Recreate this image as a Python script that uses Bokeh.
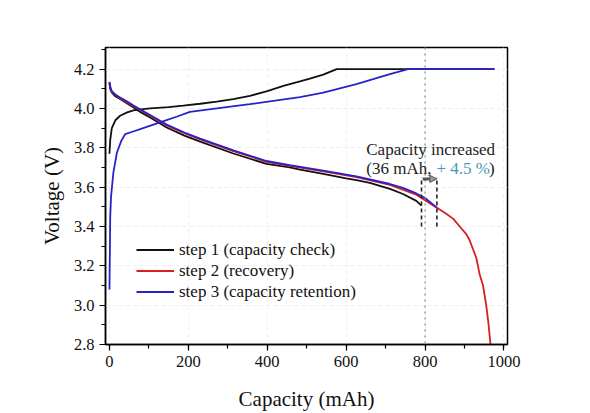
from bokeh.plotting import figure
from bokeh.models import (Range1d, SingleIntervalTicker, NumeralTickFormatter, Legend, LegendItem,
                          Span, Label, Arrow, NormalHead)
from bokeh.embed import file_html
from bokeh.resources import INLINE

# ---- data ----
step1_charge_cap = [0, 2, 6, 15, 27, 45, 61, 80, 103, 150, 187, 230, 272, 314, 356, 400, 441, 483, 508, 542, 576, 976]
step1_charge_v = [3.77, 3.84, 3.90, 3.94, 3.963, 3.98, 3.99, 3.995, 4.0, 4.007, 4.014, 4.024, 4.035, 4.048,
                  4.064, 4.088, 4.115, 4.138, 4.152, 4.172, 4.2, 4.2]

step1_dis_cap = [0, 2, 6, 15, 27, 45, 61, 80, 103, 145, 190, 230, 314, 398, 457, 483, 542, 600, 626, 660,
                 711, 744, 778, 791]
step1_dis_v = [4.132, 4.10, 4.081, 4.062, 4.048, 4.025, 4.005, 3.98, 3.954, 3.903, 3.862, 3.831, 3.771, 3.718,
               3.70, 3.689, 3.667, 3.645, 3.636, 3.622, 3.591, 3.565, 3.53, 3.506]

step2_dis_cap = [0, 6, 27, 61, 103, 145, 190, 230, 314, 398, 457, 542, 626, 711, 778, 829, 850, 871, 888,
                 905, 913, 930, 938, 947, 955, 960, 966]
step2_dis_v = [4.13, 4.084, 4.052, 4.011, 3.963, 3.914, 3.874, 3.843, 3.783, 3.729, 3.708, 3.68, 3.651, 3.612,
               3.562, 3.497, 3.47, 3.44, 3.40, 3.36, 3.33, 3.24, 3.16, 3.10, 3.0, 2.92, 2.80]

step3_charge_cap = [0, 1, 2, 4, 10, 19, 30, 40, 60, 78, 128, 170, 204, 272, 356, 420, 483, 542, 626, 711, 757, 976]
step3_charge_v = [3.08, 3.25, 3.45, 3.55, 3.675, 3.776, 3.835, 3.87, 3.883, 3.895, 3.929, 3.958, 3.983, 4.0,
                  4.022, 4.04, 4.058, 4.081, 4.124, 4.175, 4.2, 4.2]

step3_dis_cap = [0, 2, 6, 15, 27, 45, 61, 80, 103, 145, 190, 230, 314, 398, 457, 542, 626, 711, 744, 778, 800, 829]
step3_dis_v = [4.135, 4.105, 4.088, 4.07, 4.056, 4.035, 4.015, 3.993, 3.967, 3.918, 3.878, 3.847, 3.787, 3.733,
               3.712, 3.684, 3.655, 3.616, 3.596, 3.568, 3.545, 3.497]

legend_labels = ["step 1 (capacity check)", "step 2 (recovery)", "step 3 (capacity retention)"]
step1_end_cap = 791
step3_end_cap = 830
marker_cap = 800
annot_line1 = "Capacity increased"
annot_line2a = "(36 mAh, "
annot_line2b = "+ 4.5 %"
annot_line2c = ")"

FONT = "Liberation Serif"
C1, C2, C3 = "#111111", "#d81e1e", "#2a22c8"

p = figure(width=590, height=413, output_backend="svg", toolbar_location=None,
           x_range=Range1d(-10, 1009), y_range=Range1d(2.8, 4.31),
           min_border_left=105, min_border_right=83, min_border_top=47, min_border_bottom=69,
           background_fill_color="white", border_fill_color="white")

p.outline_line_color = "black"
p.outline_line_width = 1.5
p.xgrid.grid_line_color = "#efefef"
p.ygrid.grid_line_color = "#efefef"
p.xgrid.grid_line_dash = "4 3"
p.ygrid.grid_line_dash = "4 3"

p.xaxis.ticker = SingleIntervalTicker(interval=200, num_minor_ticks=2)
p.yaxis.ticker = SingleIntervalTicker(interval=0.2, num_minor_ticks=2)
p.yaxis.formatter = NumeralTickFormatter(format="0.0")
for ax in (p.xaxis, p.yaxis):
    ax.axis_line_width = 1.5
    ax.axis_line_color = "black"
    ax.major_tick_line_color = "black"
    ax.minor_tick_line_color = "black"
    ax.major_tick_line_width = 1.2
    ax.minor_tick_line_width = 1.2
    ax.major_tick_in = 0
    ax.major_tick_out = 6
    ax.minor_tick_in = 0
    ax.minor_tick_out = 4
    ax.major_label_text_font = FONT
    ax.major_label_text_font_size = "16.5px"
    ax.major_label_text_color = "#111111"
    ax.axis_label_text_font = FONT
    ax.axis_label_text_font_size = "21px"
    ax.axis_label_text_font_style = "normal"
    ax.axis_label_text_color = "#111111"
    ax.major_label_standoff = 5
p.xaxis.axis_label = "Capacity (mAh)"
p.yaxis.axis_label = "Voltage (V)"
p.xaxis.axis_label_standoff = 17
p.yaxis.axis_label_standoff = 7

# vertical dotted marker
p.add_layout(Span(location=marker_cap, dimension="height", line_color="#8a8a8a",
                  line_dash="dotted", line_width=1.2))

# curves
r1a = p.line(step1_charge_cap, step1_charge_v, line_color=C1, line_width=1.8)
r1b = p.line(step1_dis_cap, step1_dis_v, line_color=C1, line_width=1.8)
r2b = p.line(step2_dis_cap, step2_dis_v, line_color=C2, line_width=1.8)
r3a = p.line(step3_charge_cap, step3_charge_v, line_color=C3, line_width=1.8)
r3b = p.line(step3_dis_cap, step3_dis_v, line_color=C3, line_width=1.8)

# dashed end markers
p.segment(x0=[step1_end_cap, step3_end_cap], y0=[3.40, 3.40], x1=[step1_end_cap, step3_end_cap], y1=[3.65, 3.65],
          line_color="#222222", line_width=1.6, line_dash="4 3")

# arrow
p.add_layout(Arrow(x_start=step1_end_cap + 3, y_start=3.642, x_end=step3_end_cap, y_end=3.642,
                   line_color="#555555", line_width=3,
                   end=NormalHead(size=7, fill_color="#999999", line_color="#555555", line_width=1)))

# annotation text
p.add_layout(Label(x=651, y=3.79, text=annot_line1, text_font=FONT, text_font_size="17px",
                   text_color="#222222", text_baseline="alphabetic"))
p.add_layout(Label(x=651, y=3.695, text=annot_line2a, text_font=FONT, text_font_size="17px",
                   text_color="#222222", text_baseline="alphabetic"))
p.add_layout(Label(x=829, y=3.695, text=annot_line2b, text_font=FONT, text_font_size="17px",
                   text_color="#3f9bb6", text_baseline="alphabetic"))
p.add_layout(Label(x=962, y=3.695, text=annot_line2c, text_font=FONT, text_font_size="17px",
                   text_color="#222222", text_baseline="alphabetic"))

legend = Legend(items=[LegendItem(label=legend_labels[0], renderers=[r1a]),
                       LegendItem(label=legend_labels[1], renderers=[r2b]),
                       LegendItem(label=legend_labels[2], renderers=[r3a])],
                location=(31, 42), orientation="vertical",
                label_text_font=FONT, label_text_font_size="17px", label_text_color="#111111",
                glyph_width=38, glyph_height=21, label_height=21, label_standoff=5,
                spacing=0, padding=0, margin=0,
                border_line_alpha=0, background_fill_alpha=0)
p.add_layout(legend)

open("out.html", "w").write(file_html(p, INLINE))
